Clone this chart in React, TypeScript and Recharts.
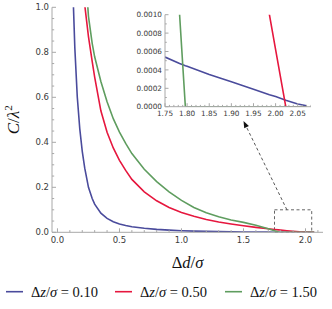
import React from "react";
import { LineChart, Line, XAxis, YAxis, ReferenceArea, ReferenceLine } from "recharts";

// Δd/σ sample positions
const dX = [
  0.1, 0.12, 0.14, 0.16, 0.18, 0.2, 0.22, 0.25, 0.28, 0.3, 0.35, 0.4, 0.45, 0.5, 0.55, 0.6,
  0.7, 0.8, 0.9, 1.0, 1.1, 1.2, 1.3, 1.4, 1.5, 1.6, 1.7, 1.75, 1.783, 1.796, 1.8, 1.85, 1.9,
  1.95, 1.986, 2.0, 2.023, 2.05, 2.07,
];
// C/λ² for Δz/σ = 0.10
const blueY = [
  1.6, 1.15, 0.82, 0.6, 0.46, 0.36, 0.285, 0.2, 0.15, 0.125, 0.085, 0.062, 0.047, 0.037, 0.03, 0.025,
  0.018, 0.013, 0.0095, 0.007, 0.0052, 0.0039, 0.0029, 0.0021, 0.0015, 0.001, 0.00066, 0.00054, 0.00047, 0.000445, 0.00044, 0.00035, 0.00027,
  0.00019, 0.00013, 0.00011, 0.00007, 0.00003, 0.00001,
];
// C/λ² for Δz/σ = 0.50
const redY = [
  null, null, null, null, null, 1.16, 1.01, 0.87, 0.76, 0.69, 0.54, 0.445, 0.375, 0.32, 0.275, 0.235,
  0.18, 0.14, 0.11, 0.088, 0.071, 0.057, 0.046, 0.037, 0.029, 0.022, 0.016, 0.0128, 0.0108, 0.01, 0.0098, 0.007, 0.0044,
  0.0021, 0.001, 0.00062, 0, 0, 0,
];
// C/λ² for Δz/σ = 1.50
const greenY = [
  null, null, null, null, null, null, 1.2, 0.96, 0.84, 0.78, 0.67, 0.58, 0.505, 0.445, 0.395, 0.35,
  0.28, 0.225, 0.18, 0.142, 0.11, 0.087, 0.069, 0.055, 0.044, 0.031, 0.016, 0.0065, 0.001, 0, 0, 0, 0,
  0, 0, 0, 0, 0, 0,
];

const seriesKeys = ["blue", "red", "green"];
const seriesLabels = ["0.10", "0.50", "1.50"];
const seriesColors = ["#4a4b9c", "#e6173e", "#5f9d5f"];

const xMajorTicks = [0, 0.5, 1, 1.5, 2];
const yMajorTicks = [0, 0.2, 0.4, 0.6, 0.8, 1];
const insetXMajorTicks = [1.75, 1.8, 1.85, 1.9, 1.95, 2, 2.05];
const insetYMajorTicks = [0, 0.0002, 0.0004, 0.0006, 0.0008, 0.001];

const data = dX.map((x, i) => ({ x, blue: blueY[i], red: redY[i], green: greenY[i] }));
const insetData = data.filter((d) => d.x >= 1.7);

const FRAME = "#a8a8a8";
const LABEL = "#3a3a3a";
const SANS = "'DejaVu Sans', sans-serif";
const SERIF = "'Liberation Serif', serif";

const range = (a: number, b: number, step: number) => {
  const out: number[] = [];
  const n = Math.round((b - a) / step);
  for (let i = 0; i <= n; i++) out.push(Math.round((a + i * step) * 1e6) / 1e6);
  return out;
};
const isIn = (v: number, list: number[]) => list.some((m) => Math.abs(m - v) < 1e-7);

const xTicks = range(0, 2.1, 0.1);
const yTicks = range(0, 1, 0.05);
const insetXTicks = range(1.75, 2.08, 0.01);
const insetYTicks = range(0, 0.001, 0.0001);

const makeTick =
  (side: "bottom" | "top" | "left" | "right", majors: number[], fmt: ((v: number) => string) | null, fs: number, major = 4, minor = 2.2) =>
  (p: any) => {
    const { x, y, payload } = p;
    const v = payload.value as number;
    const isMaj = isIn(v, majors);
    const len = isMaj ? major : minor;
    let line;
    let label = null;
    if (side === "bottom") {
      line = <line x1={x} x2={x} y1={y} y2={y - len} stroke={FRAME} />;
      if (isMaj && fmt)
        label = (
          <text x={x} y={y + fs + 2} textAnchor="middle" fontSize={fs} fontFamily={SANS} fill={LABEL}>
            {fmt(v)}
          </text>
        );
    } else if (side === "top") {
      line = <line x1={x} x2={x} y1={y} y2={y + len} stroke={FRAME} />;
    } else if (side === "left") {
      line = <line x1={x} x2={x + len} y1={y} y2={y} stroke={FRAME} />;
      if (isMaj && fmt)
        label = (
          <text x={x - 3} y={y + fs * 0.36} textAnchor="end" fontSize={fs} fontFamily={SANS} fill={LABEL}>
            {fmt(v)}
          </text>
        );
    } else {
      line = <line x1={x} x2={x - len} y1={y} y2={y} stroke={FRAME} />;
    }
    return (
      <g>
        {line}
        {label}
      </g>
    );
  };

const ArrowShape = (p: any) => {
  const { x1, y1, x2, y2 } = p;
  const dx = x2 - x1;
  const dy = y2 - y1;
  const L = Math.sqrt(dx * dx + dy * dy) || 1;
  const ux = dx / L;
  const uy = dy / L;
  const hl = 7;
  const hw = 2.6;
  const bx = x2 - ux * hl;
  const by = y2 - uy * hl;
  const pts = `${x2},${y2} ${bx - uy * hw},${by + ux * hw} ${bx + uy * hw},${by - ux * hw}`;
  return (
    <g>
      <line x1={x1} y1={y1} x2={bx} y2={by} stroke="#444" strokeWidth={0.9} strokeDasharray="3 2.5" />
      <polygon points={pts} fill="#111" />
    </g>
  );
};

const XTitle = (p: any) => {
  const vb = p.viewBox;
  return (
    <text x={vb.x + vb.width / 2} y={vb.y + 36} textAnchor="middle" fontSize={16.5} fontFamily={SERIF} fill="#111">
      Δ<tspan fontStyle="italic">d</tspan>/<tspan fontStyle="italic">σ</tspan>
    </text>
  );
};

const YTitle = (p: any) => {
  const vb = p.viewBox;
  const cx = vb.x - 7;
  const cy = vb.y + vb.height / 2;
  return (
    <text
      x={cx}
      y={cy}
      transform={`rotate(-90 ${cx} ${cy})`}
      textAnchor="middle"
      dominantBaseline="middle"
      fontSize={17}
      fontFamily={SERIF}
      fill="#111"
    >
      <tspan fontStyle="italic">C</tspan>/<tspan fontStyle="italic">λ</tspan>
      <tspan fontSize={11} dy={-6}>2</tspan>
    </text>
  );
};

const legendX = [6, 115, 225];

export default function App() {
  return (
    <div style={{ position: "absolute", left: 0, top: 0, width: 332, height: 309, background: "#fff" }}>
      <LineChart width={332} height={309} data={data} margin={{ top: 7.3, right: 9, bottom: 56.7, left: 22 }}>
        <XAxis
          dataKey="x"
          type="number"
          domain={[-0.044, 2.141]}
          allowDataOverflow
          ticks={xTicks}
          interval={0}
          tickSize={0}
          tickMargin={0}
          height={20}
          axisLine={{ stroke: FRAME }}
          tickLine={false}
          tick={makeTick("bottom", xMajorTicks, (v) => v.toFixed(1), 8.5)}
          label={<XTitle />}
        />
        <XAxis
          xAxisId="top"
          orientation="top"
          dataKey="x"
          type="number"
          domain={[-0.044, 2.141]}
          allowDataOverflow
          ticks={xTicks}
          interval={0}
          tickSize={0}
          tickMargin={0}
          height={0}
          axisLine={{ stroke: FRAME }}
          tickLine={false}
          tick={makeTick("top", xMajorTicks, null, 8.5)}
        />
        <YAxis
          type="number"
          domain={[0, 1]}
          allowDataOverflow
          ticks={yTicks}
          interval={0}
          tickSize={0}
          tickMargin={0}
          width={30}
          axisLine={{ stroke: FRAME }}
          tickLine={false}
          tick={makeTick("left", yMajorTicks, (v) => v.toFixed(1), 8.5)}
          label={<YTitle />}
        />
        <YAxis
          yAxisId="right"
          orientation="right"
          type="number"
          domain={[0, 1]}
          allowDataOverflow
          ticks={yTicks}
          interval={0}
          tickSize={0}
          tickMargin={0}
          width={0}
          axisLine={{ stroke: FRAME }}
          tickLine={false}
          tick={makeTick("right", yMajorTicks, null, 8.5)}
        />
        {seriesKeys.map((k, i) => (
          <Line
            key={k}
            dataKey={k}
            stroke={seriesColors[i]}
            strokeWidth={1.6}
            dot={false}
            activeDot={false}
            isAnimationActive={false}
          />
        ))}
        <ReferenceArea x1={1.75} x2={2.05} y1={0} y2={0.1} fill="none" stroke="#555" strokeWidth={0.9} strokeDasharray="3 2.5" />
        <ReferenceLine
          segment={[
            { x: 1.85, y: 0.1 },
            { x: 1.5, y: 0.495 },
          ]}
          shape={ArrowShape}
        />
      </LineChart>

      <div style={{ position: "absolute", left: 125, top: 0 }}>
        <LineChart width={186} height={120} data={insetData} margin={{ top: 14.7, right: 0, bottom: 3.3, left: 10 }}>
          <XAxis
            dataKey="x"
            type="number"
            domain={[1.75, 2.08]}
            allowDataOverflow
            ticks={insetXTicks}
            interval={0}
            tickSize={0}
            tickMargin={0}
            height={10}
            axisLine={{ stroke: FRAME }}
            tickLine={false}
            tick={makeTick("bottom", insetXMajorTicks, (v) => v.toFixed(2), 7.3, 3.5, 1.8)}
          />
          <XAxis
            xAxisId="top"
            orientation="top"
            dataKey="x"
            type="number"
            domain={[1.75, 2.08]}
            allowDataOverflow
            ticks={insetXTicks}
            interval={0}
            tickSize={0}
            tickMargin={0}
            height={0}
            axisLine={{ stroke: FRAME }}
            tickLine={false}
            tick={makeTick("top", insetXMajorTicks, null, 7.3, 3.5, 1.8)}
          />
          <YAxis
            type="number"
            domain={[0, 0.001]}
            allowDataOverflow
            ticks={insetYTicks}
            interval={0}
            tickSize={0}
            tickMargin={0}
            width={30}
            axisLine={{ stroke: FRAME }}
            tickLine={false}
            tick={makeTick("left", insetYMajorTicks, (v) => v.toFixed(4), 7.3, 3.5, 1.8)}
          />
          <YAxis
            yAxisId="right"
            orientation="right"
            type="number"
            domain={[0, 0.001]}
            allowDataOverflow
            ticks={insetYTicks}
            interval={0}
            tickSize={0}
            tickMargin={0}
            width={0}
            axisLine={{ stroke: FRAME }}
            tickLine={false}
            tick={makeTick("right", insetYMajorTicks, null, 7.3, 3.5, 1.8)}
          />
          {seriesKeys.map((k, i) => (
            <Line
              key={k}
              dataKey={k}
              stroke={seriesColors[i]}
              strokeWidth={1.6}
              dot={false}
              activeDot={false}
              isAnimationActive={false}
            />
          ))}
        </LineChart>
      </div>

      <svg width={332} height={30} style={{ position: "absolute", left: 0, top: 277 }}>
        {seriesLabels.map((lab, i) => (
          <g key={lab}>
            <line x1={legendX[i]} x2={legendX[i] + 17} y1={14.7} y2={14.7} stroke={seriesColors[i]} strokeWidth={1.6} />
            <text x={legendX[i] + 25} y={19.5} fontSize={14.5} fontFamily={SERIF} fill="#111">
              Δ<tspan fontStyle="italic">z</tspan>/<tspan fontStyle="italic">σ</tspan>
              {" = "}
              {lab}
            </text>
          </g>
        ))}
      </svg>
    </div>
  );
}
